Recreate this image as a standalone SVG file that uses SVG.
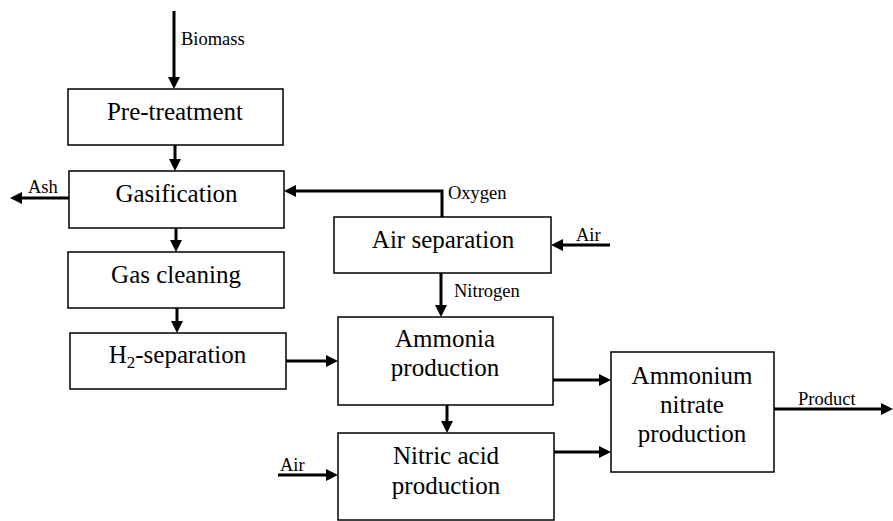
<svg xmlns="http://www.w3.org/2000/svg" width="893" height="521" viewBox="0 0 893 521">
<style>
.box{fill:#fff;stroke:#000;stroke-width:1.5}
.conn{fill:none;stroke:#000;stroke-width:3;marker-end:url(#ah)}
</style>
<defs>
<marker id="ah" markerUnits="userSpaceOnUse" markerWidth="13" markerHeight="13" refX="4" refY="6" orient="auto">
<path d="M0,0 L12,6 L0,12 z" fill="#000"/>
</marker>
</defs>
<rect width="893" height="521" fill="#fff"/>
<g id="connectors">
<path class="conn" d="M174,11 V81"/>
<path class="conn" d="M175,145 V163"/>
<path class="conn" d="M69,198 H18"/>
<path class="conn" d="M176,228 V244"/>
<path class="conn" d="M177,308 V325"/>
<path class="conn" d="M442,217 V191 H292"/>
<path class="conn" d="M610,245 H559"/>
<path class="conn" d="M441,273 V309"/>
<path class="conn" d="M286,361 H330"/>
<path class="conn" d="M553,380 H603"/>
<path class="conn" d="M447,405 V425"/>
<path class="conn" d="M554,452 H603"/>
<path class="conn" d="M278,475 H330"/>
<path class="conn" d="M774,409 H885"/>
<g font-family="Liberation Serif, serif" font-size="18.5" fill="#000">
<text x="181" y="45">Biomass</text>
<text x="28" y="193">Ash</text>
<text x="448" y="199">Oxygen</text>
<text x="576" y="241">Air</text>
<text x="454" y="297">Nitrogen</text>
<text x="280" y="471">Air</text>
<text x="798" y="405">Product</text>
</g>
</g>
<g font-family="Liberation Serif, serif" font-size="25" fill="#000" text-anchor="middle">
<g id="pretreatment">
<rect class="box" x="68" y="89" width="215" height="56"/>
<text x="175" y="120" font-family="Liberation Serif, serif">Pre-treatment</text>
</g>
<g id="gasification">
<rect class="box" x="69" y="171" width="215" height="57"/>
<text x="176.5" y="202" font-family="Liberation Serif, serif">Gasification</text>
</g>
<g id="gascleaning">
<rect class="box" x="68" y="252" width="216" height="56"/>
<text x="176" y="283" font-family="Liberation Serif, serif">Gas cleaning</text>
</g>
<g id="h2separation">
<rect class="box" x="70" y="333" width="216" height="56"/>
<text x="177.5" y="363" font-family="Liberation Serif, serif">H<tspan font-size="17" dy="5">2</tspan><tspan dy="-5">-separation</tspan></text>
</g>
<g id="airseparation">
<rect class="box" x="334" y="217" width="217" height="56"/>
<text x="443" y="248" font-family="Liberation Serif, serif">Air separation</text>
</g>
<g id="ammonia">
<rect class="box" x="338" y="317" width="215" height="88"/>
<text x="445" y="347" font-family="Liberation Serif, serif">Ammonia</text>
<text x="445" y="376" font-family="Liberation Serif, serif">production</text>
</g>
<g id="nitricacid">
<rect class="box" x="338" y="433" width="216" height="87"/>
<text x="446" y="464" font-family="Liberation Serif, serif">Nitric acid</text>
<text x="446" y="494" font-family="Liberation Serif, serif">production</text>
</g>
<g id="ammoniumnitrate">
<rect class="box" x="611" y="352" width="163" height="120"/>
<text x="692" y="384" font-family="Liberation Serif, serif">Ammonium</text>
<text x="692" y="413" font-family="Liberation Serif, serif">nitrate</text>
<text x="692" y="442" font-family="Liberation Serif, serif">production</text>
</g>
</g>
</svg>
